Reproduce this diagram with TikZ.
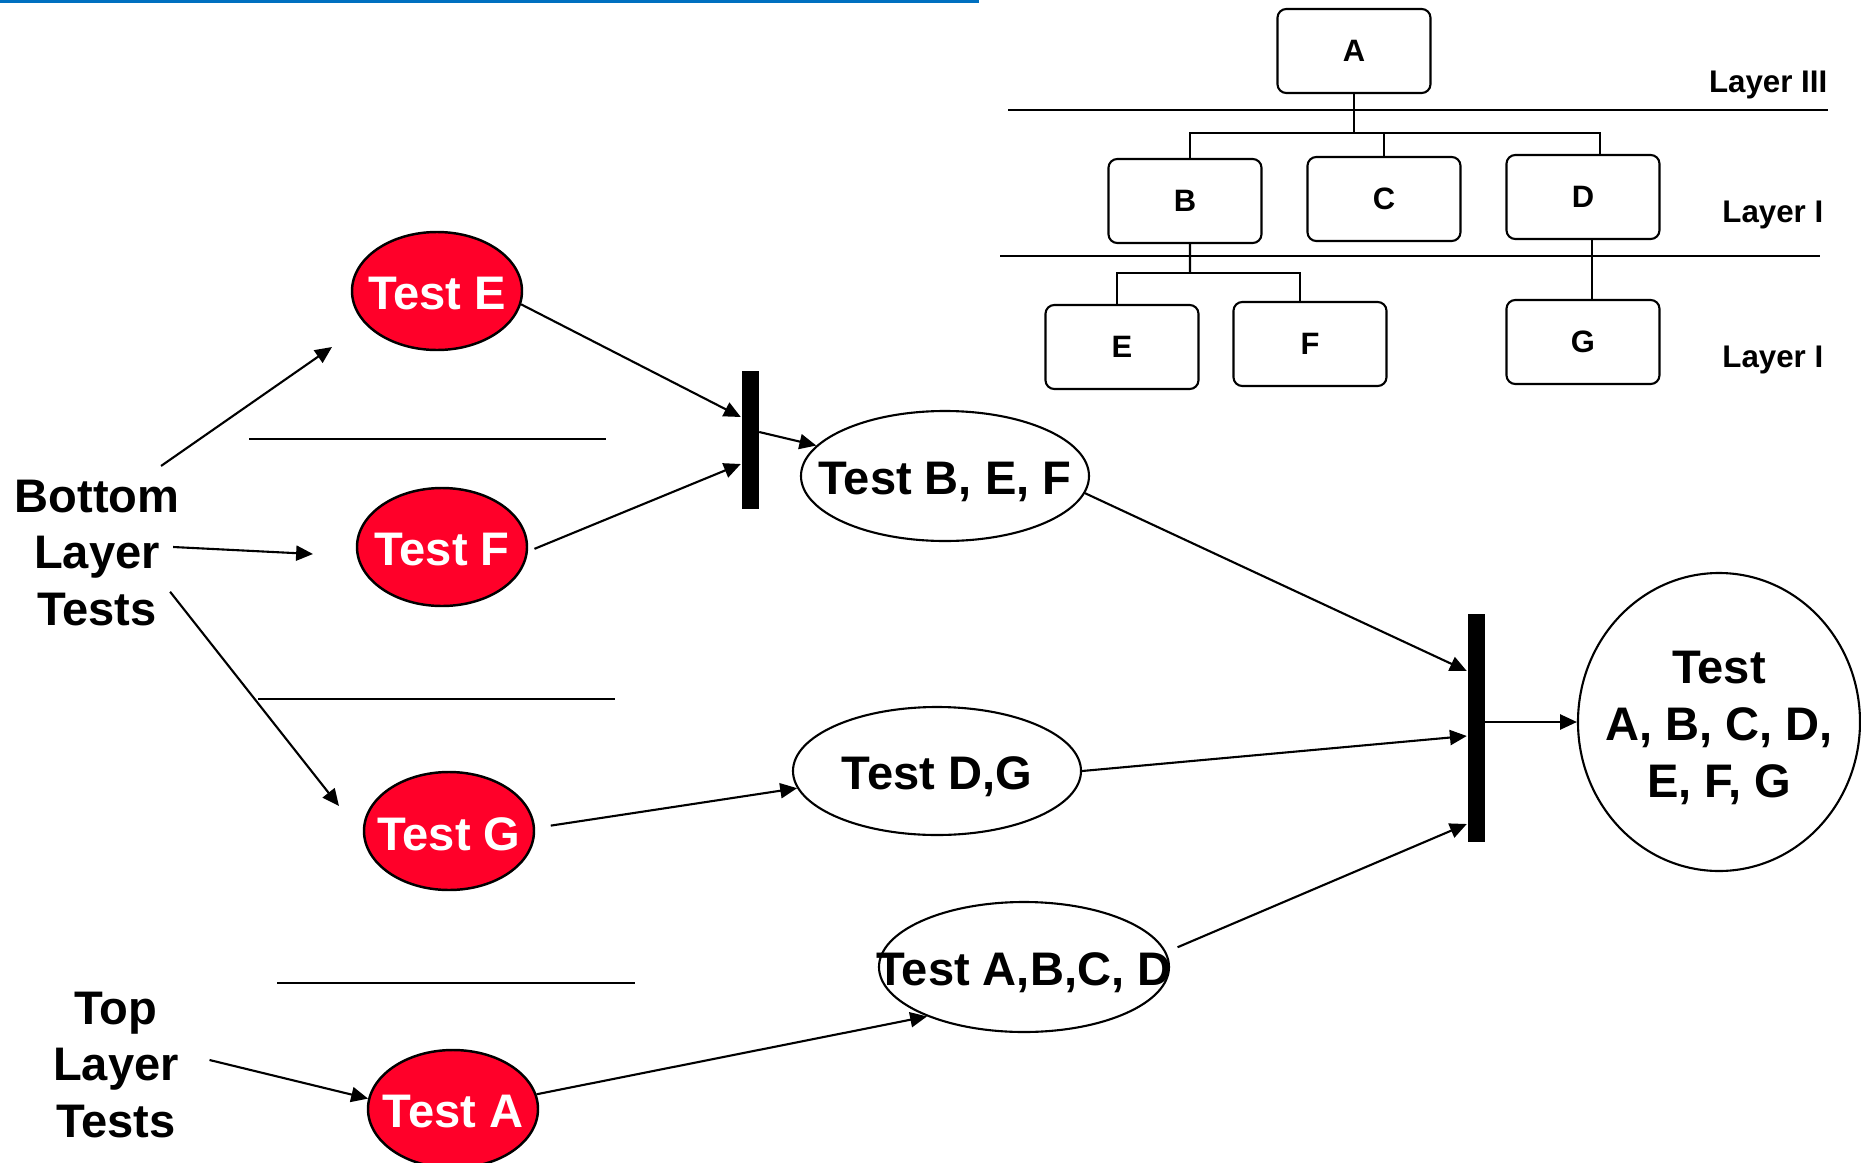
\documentclass[tikz,border=0pt]{standalone}
\usepackage{fontspec}
\setmainfont{Liberation Sans}
\usepackage{tikz}
\usetikzlibrary{shapes.geometric,arrows.meta}
\definecolor{testred}{RGB}{255,0,41}
\definecolor{slideblue}{RGB}{0,112,192}

\begin{document}
\begin{tikzpicture}[
		unit/.style={draw, rounded corners=2.5pt, line width=0.6pt, minimum width=1.53cm, minimum height=0.84cm, inner sep=0pt, font=\fontsize{8.8}{10}\selectfont\bfseries},
		layer/.style={anchor=east, inner sep=0pt, font=\fontsize{8.9}{10}\selectfont\bfseries},
		tree/.style={line width=0.6pt},
		testnode/.style={ellipse, draw, line width=0.7pt, fill=testred, minimum width=1.70cm, minimum height=1.18cm, inner sep=0pt},
		redtext/.style={text=white, inner sep=0pt, yshift=-0.3mm, font=\fontsize{13.4}{16}\selectfont\bfseries},
		stage/.style={ellipse, draw, line width=0.6pt, fill=white, inner sep=0pt},
		bigtext/.style={inner sep=0pt, align=center, font=\fontsize{13.4}{16.2}\selectfont\bfseries},
		stagetext/.style={bigtext, yshift=-0.6mm},
		bar/.style={fill=black, minimum width=0.17cm, inner sep=0pt},
		arr/.style={-{Triangle[length=4.8pt,width=4.3pt]}, line width=0.6pt},
		sep/.style={line width=0.75pt}
	]
		%\draw [help lines] (0,0) grid (18,-11);
		\useasboundingbox (0,0) rectangle (18.61,-11.63);
		%Riga blu
		\draw [slideblue, line width=0.85pt] (0,-0.015) -- (9.79,-0.015);
		%Albero dei moduli
		\node [unit] (A) at (13.54,-0.51) {A};
		\node [unit] (B) at (11.85,-2.01) {B};
		\node [unit] (C) at (13.84,-1.99) {C};
		\node [unit] (D) at (15.83,-1.97) {D};
		\node [unit] (E) at (11.22,-3.47) {E};
		\node [unit] (F) at (13.10,-3.44) {F};
		\node [unit] (G) at (15.83,-3.42) {G};
		\coordinate (abus) at (13.54,-1.33);
		\coordinate (bbus) at (11.90,-2.73);
		\draw [tree] (A.south) -- (abus);
		\draw [tree] ([xshift=0.5mm]B.north) |- (abus) -| ([xshift=1.7mm]D.north);
		\draw [tree] (C.north) -- (C.north |- abus);
		\draw [tree] ([xshift=0.5mm]B.south) -- (bbus);
		\draw [tree] ([xshift=-0.5mm]E.north) |- (bbus) -| ([xshift=-1mm]F.north);
		\draw [tree] ([xshift=0.9mm]D.south) -- ([xshift=0.9mm]G.north);
		\draw [sep] (10.08,-1.10) -- (18.28,-1.10);
		\draw [sep] (10.00,-2.56) -- (18.20,-2.56);
		\node [layer] (lay3) at (18.28,-0.85) {Layer III};
		\node [layer] (lay2) at (18.24,-2.15) {Layer I};
		\node [layer] (lay1) at (18.24,-3.60) {Layer I};
		%Test di livello inferiore
		\node [bigtext] (bot) at (0.97,-5.53) {Bottom\\Layer\\Tests};
		\node [bigtext] (top) at (1.16,-10.65) {Top\\Layer\\Tests};
		\node [testnode, label={[redtext]center:Test E}] (tE) at (4.37,-2.91) {};
		\node [testnode, label={[redtext]center:Test F}] (tF) at (4.42,-5.47) {};
		\node [testnode, label={[redtext]center:Test G}] (tG) at (4.49,-8.31) {};
		\node [testnode, label={[redtext]center:Test A}] (tA) at (4.53,-11.09) {};
		\coordinate (tipE) at (3.32,-3.47);
		\coordinate (tipF) at (3.13,-5.54);
		\coordinate (tipG) at (3.39,-8.06);
		\draw [arr] ([xshift=-1.9mm,yshift=1.3mm]bot.north east) -- (tipE);
		\draw [arr] ([xshift=-0.7mm,yshift=0.6mm]bot.east) -- (tipF);
		\draw [arr] ([xshift=-1mm]bot.-25) -- (tipG);
		\draw [arr] ([xshift=3mm,yshift=0.5mm]top.east) -- (tA.173);
		\draw [sep] (2.49,-4.39) -- (6.06,-4.39);
		\draw [sep] (2.58,-6.99) -- (6.15,-6.99);
		\draw [sep] (2.77,-9.83) -- (6.35,-9.83);
		%Integrazione
		\node [bar, minimum height=1.38cm] (bar1) at (7.50,-4.40) {};
		\node [bar, minimum height=2.28cm] (bar2) at (14.76,-7.28) {};
		\node [stage, minimum width=2.88cm, minimum height=1.30cm, label={[stagetext]center:{Test B, E, F}}] (bef) at (9.45,-4.76) {};
		\node [stage, minimum width=2.88cm, minimum height=1.28cm, label={[stagetext]center:{Test D,G}}] (dg) at (9.37,-7.71) {};
		\node [stage, minimum width=2.90cm, minimum height=1.30cm, fill=none, label={[stagetext]center:{Test A,B,C, D}}] (abcd) at (10.24,-9.67) {};
		\node [stage, minimum width=2.82cm, minimum height=2.98cm, label={[stagetext]center:{Test\\A, B, C, D,\\E, F, G}}] (all) at (17.19,-7.22) {};
		\draw [arr] (tE.-9) -- ([yshift=2.3mm]bar1.west);
		\draw [arr, shorten <=2pt] (tF.-3) -- ([yshift=-2.4mm]bar1.west);
		\draw [arr] ([yshift=0.8mm]bar1.east) -- (bef);
		\draw [arr, shorten <=4.5pt] (tG.2) -- (dg.187);
		\draw [arr] (tA.10) -- (abcd.207);
		\draw [arr] (bef.-7) -- ([yshift=5.7mm]bar2.west);
		\draw [arr] (dg.east) -- ([yshift=-0.8mm]bar2.west);
		\draw [arr, shorten <=3.5pt] (abcd.6) -- ([yshift=-9.6mm]bar2.west);
		\draw [arr] (bar2.east |- all.west) -- (all.west);
	\end{tikzpicture}
\end{document}
